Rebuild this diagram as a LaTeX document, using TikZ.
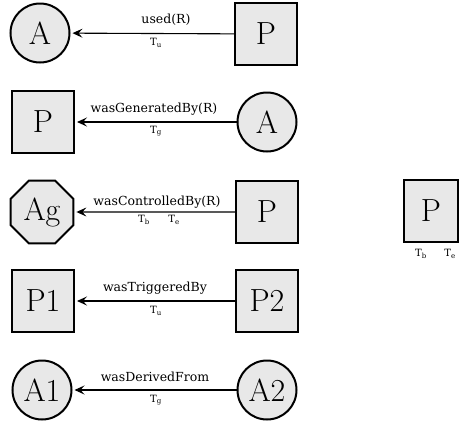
\documentclass[tikz,border=0pt]{standalone}
\usepackage{fontspec}
\newfontfamily\lblfont{DejaVu Serif}
\usetikzlibrary{shapes.geometric,arrows.meta}
\definecolor{nodefill}{HTML}{E8E8E8}
\tikzset{
  base/.style={draw=black,line width=2pt,fill=nodefill,inner sep=0pt,font=\fontsize{32}{32}\selectfont},
  circ/.style={base,circle,minimum size=59pt},
  sq/.style={base,rectangle,minimum width=62pt,minimum height=62pt},
  oct/.style={base,regular polygon,regular polygon sides=8,minimum size=68pt},
  edge/.style={line width=1.1pt,-{Stealth[length=10pt,width=9pt,inset=4pt]},shorten >=2pt},
  lbl/.style={font=\lblfont\fontsize{12.5}{13}\selectfont,inner sep=0pt},
  tlbl/.style={font=\lblfont\fontsize{10}{10}\selectfont,inner sep=0pt}
}
\begin{document}
\begin{tikzpicture}[x=1pt,y=-1pt]
\useasboundingbox (0,0) rectangle (459,421);
% row 1
\node[circ] (a1) at (40,33) {A};
\node[sq] (p1) at (266,34) {P};
\draw[edge] (p1) -- (a1);
\node[lbl] (l1) at (166,20) {used(R)};
\node[tlbl] (t1) at (156,43) {T\textsubscript{u}};
% row 2
\node[sq] (p2) at (43,122) {P};
\node[circ] (a2) at (267,122) {A};
\draw[edge] (a2) -- (p2);
\node[lbl] (l2) at (154,109) {wasGeneratedBy(R)};
\node[tlbl] (t2) at (156,131) {T\textsubscript{g}};
% row 3
\node[oct] (ag) at (42,212) {Ag};
\node[sq] (p3) at (267,212) {P};
\draw[edge] (p3) -- (ag);
\node[lbl] (l3) at (157,202) {wasControlledBy(R)};
\node[tlbl] (t3b) at (144,220) {T\textsubscript{b}};
\node[tlbl] (t3e) at (174,220) {T\textsubscript{e}};
% right P
\node[base,rectangle,minimum width=54pt,minimum height=62pt] (pr) at (431,211) {P};
\node[tlbl] (trb) at (421,254) {T\textsubscript{b}};
\node[tlbl] (tre) at (450,254) {T\textsubscript{e}};
% row 4
\node[sq] (q1) at (43,301) {P1};
\node[sq] (q2) at (267,301) {P2};
\draw[edge] (q2) -- (q1);
\node[lbl] (l4) at (155,288) {wasTriggeredBy};
\node[tlbl] (t4) at (156,311) {T\textsubscript{u}};
% row 5
\node[circ] (b1) at (42,390) {A1};
\node[circ] (b2) at (267,390) {A2};
\draw[edge] (b2) -- (b1);
\node[lbl] (l5) at (155,377) {wasDerivedFrom};
\node[tlbl] (t5) at (156,400) {T\textsubscript{g}};
\end{tikzpicture}
\end{document}
